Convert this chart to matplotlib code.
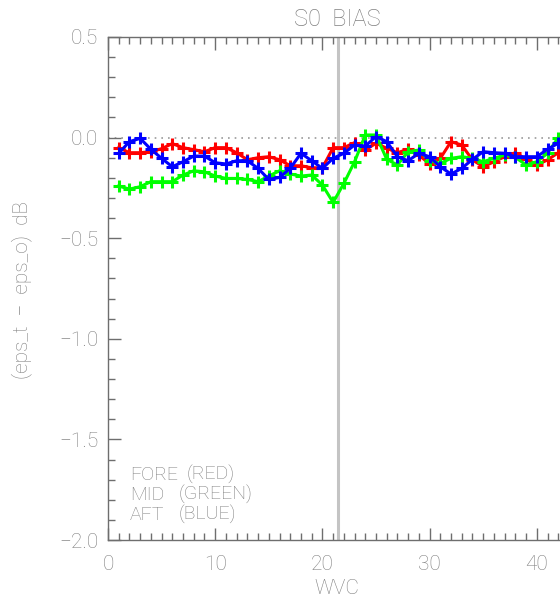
import numpy as np
import matplotlib
matplotlib.use("Agg")
import matplotlib.pyplot as plt
from matplotlib.ticker import MultipleLocator, FuncFormatter

# wind vector cell index
wvc = np.arange(1, 43)

fore = [-0.05, -0.075, -0.075, -0.07, -0.055, -0.03, -0.05, -0.06, -0.07, -0.05,
        -0.05, -0.075, -0.11, -0.10, -0.095, -0.11, -0.14, -0.14, -0.15, -0.15,
        -0.05, -0.05, -0.025, -0.062, -0.028, -0.053, -0.075, -0.058, -0.087, -0.131,
        -0.103, -0.02, -0.037, -0.111, -0.145, -0.12, -0.095, -0.075, -0.108, -0.136,
        -0.111, -0.075]
mid = [-0.241, -0.256, -0.244, -0.219, -0.219, -0.219, -0.186, -0.165, -0.17, -0.191,
       -0.203, -0.203, -0.208, -0.219, -0.191, -0.165, -0.181, -0.191, -0.186, -0.236,
       -0.322, -0.228, -0.12, 0.013, 0.013, -0.108, -0.136, -0.07, -0.062, -0.115,
       -0.128, -0.103, -0.095, -0.103, -0.12, -0.103, -0.087, -0.098, -0.136, -0.12,
       -0.078, 0.0]
aft = [-0.078, -0.02, -0.004, -0.058, -0.103, -0.145, -0.12, -0.092, -0.092, -0.125,
       -0.131, -0.115, -0.115, -0.153, -0.208, -0.198, -0.153, -0.078, -0.115, -0.153,
       -0.103, -0.078, -0.037, -0.042, 0.005, -0.02, -0.095, -0.115, -0.078, -0.095,
       -0.145, -0.181, -0.153, -0.108, -0.07, -0.075, -0.078, -0.095, -0.095, -0.095,
       -0.058, -0.028]

legend_names = ["FORE", "MID", "AFT"]
legend_cols = ["(RED)", "(GREEN)", "(BLUE)"]
center_wvc = 21.5

TXT = "#808080"
AX = "#6e6e6e"
FONT = ["Roboto", "DejaVu Sans"]

plt.rcParams['font.family'] = FONT
plt.rcParams['font.weight'] = 'light'

W, H = 560, 601
fig = plt.figure(figsize=(W / 100, H / 100), dpi=100)
ax = fig.add_axes([108 / W, (H - 540) / H, (W - 108) / W, 503 / H])

ax.set_xlim(0, (W - 108) / 10.72)
ax.set_ylim(-2.0, 0.5)

ax.axhline(0, color="#9a9a9a", lw=1.2, ls=(0, (1, 3)), zorder=1)
ax.axvline(center_wvc, color="#c4c4c4", lw=2.2, zorder=1)

for ys, col in [(fore, "#ff0000"), (mid, "#00ff00"), (aft, "#0000ff")]:
    ax.plot(wvc, ys, color=col, lw=2.2, marker="+", ms=9, mew=2.2, zorder=3)

for s in ["left", "bottom", "top"]:
    ax.spines[s].set_color(AX)
    ax.spines[s].set_linewidth(1.0)
ax.spines["right"].set_visible(False)

ax.xaxis.set_major_locator(MultipleLocator(10))
ax.xaxis.set_minor_locator(MultipleLocator(1))
ax.yaxis.set_major_locator(MultipleLocator(0.5))
ax.yaxis.set_minor_locator(MultipleLocator(0.1))
ax.yaxis.set_major_formatter(FuncFormatter(lambda v, p: f"{v:.1f}".replace("-", "\u2212")))

ax.tick_params(axis="both", which="both", direction="in", color=AX, labelcolor=TXT,
               labelsize=15, top=True, right=False)
ax.tick_params(axis="both", which="major", length=9, width=1)
ax.tick_params(axis="both", which="minor", length=5, width=1)
ax.tick_params(axis="x", which="major", pad=11)
ax.tick_params(axis="y", which="major", pad=7)

fig.text(337 / W, 1 - 20 / H, "S0  BIAS", ha="center", va="center", fontsize=17, color=TXT)
fig.text(337 / W, 1 - 588 / H, "WVC", ha="center", va="center", fontsize=15, color=TXT)
fig.text(22 / W, 1 - 290 / H, "(eps_t  \u2212  eps_o)  dB", ha="center", va="center",
         rotation=90, fontsize=15, color=TXT)

for i, (n, c) in enumerate(zip(legend_names, legend_cols)):
    y = 1 - (475 + 20 * i) / H
    fig.text(130 / W, y, n, ha="left", va="center", fontsize=14, color=TXT)
    fig.text((187 if i == 0 else 179) / W, y, c, ha="left", va="center", fontsize=14, color=TXT)

fig.savefig("out.png", dpi=100)
